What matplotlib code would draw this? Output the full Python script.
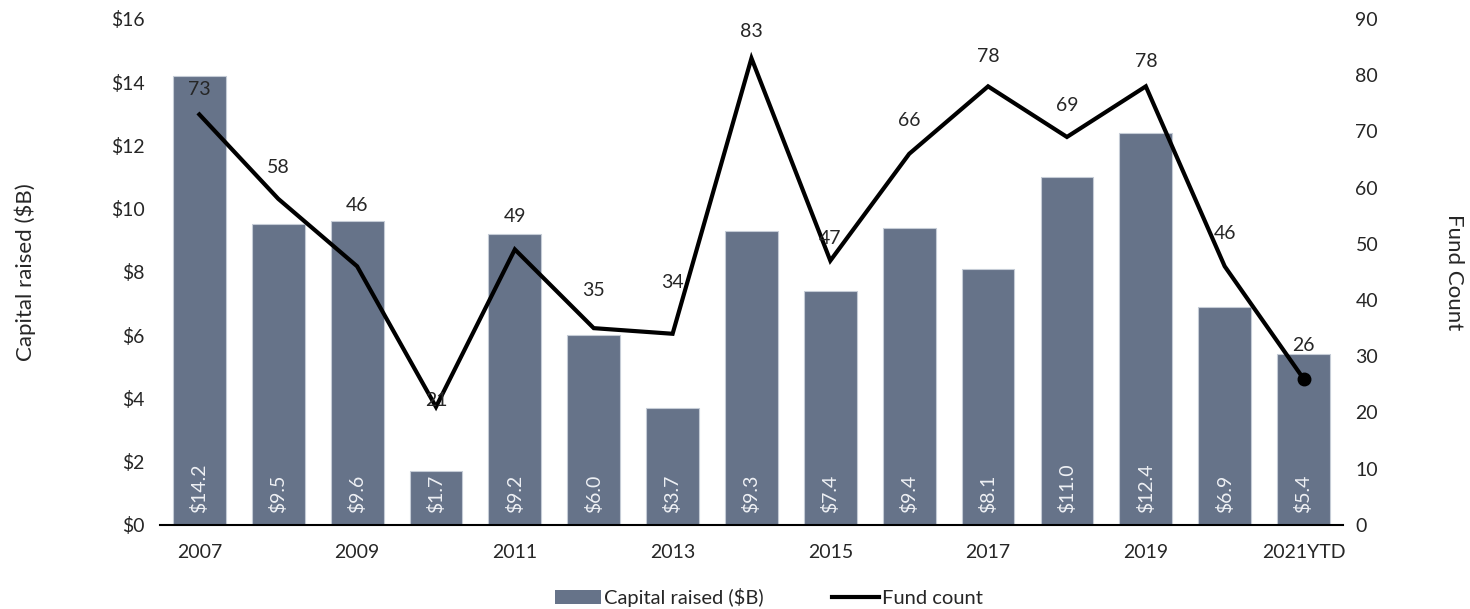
import matplotlib
matplotlib.use('Agg')
import matplotlib.pyplot as plt
from matplotlib.lines import Line2D
from matplotlib.patches import Patch

# chart data
years = ['2007', '2008', '2009', '2010', '2011', '2012', '2013', '2014',
         '2015', '2016', '2017', '2018', '2019', '2020', '2021YTD']
capital = [14.2, 9.5, 9.6, 1.7, 9.2, 6.0, 3.7, 9.3, 7.4, 9.4, 8.1, 11.0, 12.4, 6.9, 5.4]
fund_count = [73, 58, 46, 21, 49, 35, 34, 83, 47, 66, 78, 69, 78, 46, 26]

# label offsets (pixels above the point) for the fund count labels
count_offsets = [25, 31, 61, 6, 33, 38, 51, 27, 22, 33, 30, 31, 25, 33, 33]

plt.rcParams['font.family'] = ['Lato', 'DejaVu Sans']

bar_color = '#667389'
text_color = '#262626'
fs = 14

fig = plt.figure(figsize=(14.7, 6.09), dpi=100)
ax = fig.add_axes([0.1088, 0.138, 0.8048, 0.831])
ax2 = ax.twinx()

x = list(range(len(years)))
ax.bar(x, capital, width=0.67, color=bar_color, edgecolor='#c5ccd6', linewidth=0.8, zorder=2)
for xi, v in zip(x, capital):
    ax.annotate(f'${v:.1f}', (xi, 0), xytext=(0, 12), textcoords='offset pixels',
                rotation=90, ha='center', va='bottom', color='#eef0f4', fontsize=fs)

ax2.plot(x, fund_count, color='black', linewidth=3, zorder=3, solid_joinstyle='miter')
ax2.plot(x[-1], fund_count[-1], 'o', color='black', markersize=9, zorder=4)
for xi, v, off in zip(x, fund_count, count_offsets):
    ax2.annotate(str(v), (xi, v), xytext=(0, off), textcoords='offset pixels',
                 ha='center', va='center', color=text_color, fontsize=fs)

ax.set_xlim(-0.5, len(years) - 0.5)
ax.set_ylim(0, 16)
ax2.set_ylim(0, 90)
ax.set_yticks(range(0, 17, 2))
ax.set_yticklabels([f'${t}' for t in range(0, 17, 2)])
ax2.set_yticks(range(0, 91, 10))
ax.set_xticks(x[::2])
ax.set_xticklabels(years[::2])

for a in (ax, ax2):
    for s in a.spines.values():
        s.set_visible(False)
    a.tick_params(length=0, labelsize=fs, colors=text_color)
ax.spines['bottom'].set_visible(True)
ax.spines['bottom'].set_linewidth(1.5)
ax.tick_params(axis='y', pad=11)
ax.tick_params(axis='x', pad=14)
ax2.tick_params(axis='y', pad=9)

ax.set_ylabel('Capital raised ($B)', fontsize=16, color=text_color, labelpad=54)
ax2.set_ylabel('Fund Count', fontsize=16, color=text_color, rotation=270, labelpad=62)

handles = [Patch(facecolor=bar_color, edgecolor='none'),
           Line2D([0], [0], color='black', linewidth=3)]
fig.legend(handles, ['Capital raised ($B)', 'Fund count'], loc='lower center',
           bbox_to_anchor=(0.523, -0.026), ncol=2, frameon=False, fontsize=14.5,
           handlelength=2.3, handletextpad=0.15, columnspacing=3.4, labelcolor=text_color)

fig.savefig('out.png', dpi=100)
